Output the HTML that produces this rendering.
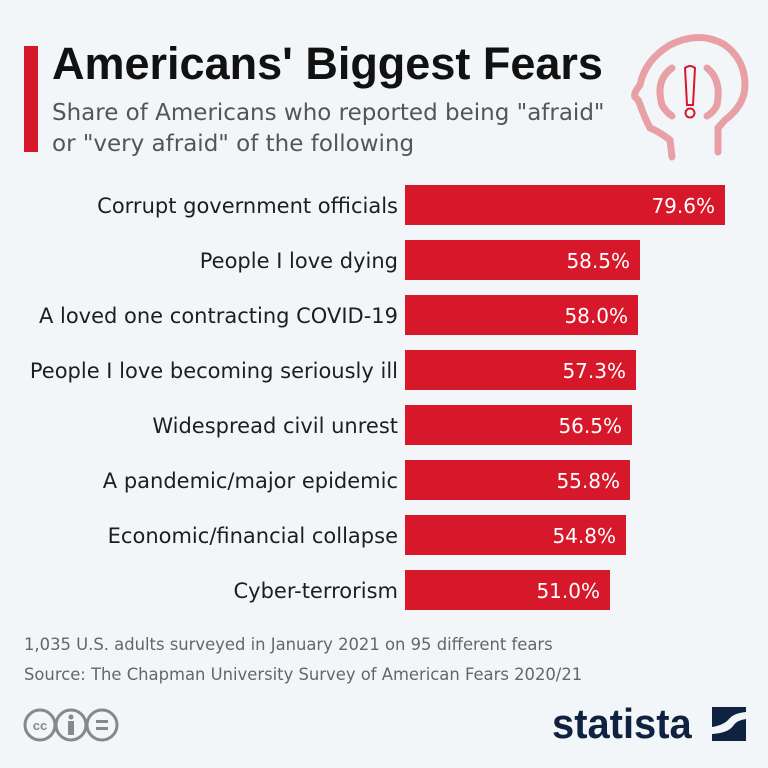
<!DOCTYPE html>
<html><head><meta charset="utf-8"><style>
body{margin:0;width:768px;height:768px;background:#f3f6f9;font-family:"DejaVu Sans",sans-serif;position:relative;overflow:hidden}
.a{position:absolute}
.lbl{position:absolute;right:370px;font-size:21px;color:#1e1e1e;white-space:nowrap;line-height:42px}
.bar{position:absolute;left:405px;height:40px;background:#d7182a;color:#fff;font-size:20px;line-height:42px;text-align:right;box-sizing:border-box;padding-right:10px;white-space:nowrap}
</style></head><body>
<div class="a" style="left:24px;top:46px;width:14px;height:106px;background:#d7182a"></div>
<div class="a" style="left:52px;top:38px;font-family:'Liberation Sans',sans-serif;font-size:45px;font-weight:bold;color:#111">Americans' Biggest Fears</div>
<div class="a" style="left:52px;top:98px;font-size:23px;color:#555;line-height:31px;white-space:nowrap">Share of Americans who reported being "afraid"<br>or "very afraid" of the following</div>
<svg class="a" style="left:625px;top:25px" width="135" height="140" viewBox="625 25 135 140">
<g fill="none" stroke="#e8a0a6" stroke-width="7" stroke-linecap="round">
<path d="M672 157 L670 140 Q660 132 650 128 Q645 118 642 110 Q640 104 638 100 L636 98 Q632 95 640 85 Q645 60 670 45 Q700 30 725 45 Q745 60 745 85 Q745 105 725 120 L718 128 L718 152"/>
<path d="M672 68 Q655 80 662 105 Q666 112 672 116"/>
<path d="M707 68 Q722 80 717 105 Q714 112 707 116"/>
</g>
<path d="M685 68 Q690 64 695 68 L693 105 L687 105 Z" fill="none" stroke="#d7182a" stroke-width="2"/>
<circle cx="690" cy="113" r="4.5" fill="none" stroke="#d7182a" stroke-width="2"/>
</svg>
<div class="lbl" style="top:185px">Corrupt government officials</div>
<div class="bar" style="top:185px;width:320px">79.6%</div>
<div class="lbl" style="top:240px">People I love dying</div>
<div class="bar" style="top:240px;width:235px">58.5%</div>
<div class="lbl" style="top:295px">A loved one contracting COVID-19</div>
<div class="bar" style="top:295px;width:233px">58.0%</div>
<div class="lbl" style="top:350px">People I love becoming seriously ill</div>
<div class="bar" style="top:350px;width:231px">57.3%</div>
<div class="lbl" style="top:405px">Widespread civil unrest</div>
<div class="bar" style="top:405px;width:227px">56.5%</div>
<div class="lbl" style="top:460px">A pandemic/major epidemic</div>
<div class="bar" style="top:460px;width:225px">55.8%</div>
<div class="lbl" style="top:515px">Economic/financial collapse</div>
<div class="bar" style="top:515px;width:221px">54.8%</div>
<div class="lbl" style="top:570px">Cyber-terrorism</div>
<div class="bar" style="top:570px;width:205px">51.0%</div>
<div class="a" style="left:24px;top:630px;font-size:16.4px;color:#666;line-height:30px;white-space:nowrap">1,035 U.S. adults surveyed in January 2021 on 95 different fears<br>Source: The Chapman University Survey of American Fears 2020/21</div>
<svg class="a" style="left:20px;top:705px" width="110" height="40">
<g fill="none" stroke="#888" stroke-width="3"><circle cx="20" cy="20" r="15"/><circle cx="51" cy="20" r="15"/><circle cx="82" cy="20" r="15"/></g>
<text x="20" y="25" font-size="13" font-weight="bold" fill="#888" text-anchor="middle" font-family="Liberation Sans">cc</text>
<circle cx="51" cy="12" r="2.5" fill="#888"/><rect x="48" y="16" width="6" height="14" fill="#888"/>
<rect x="76" y="15" width="12" height="3" fill="#888"/><rect x="76" y="22" width="12" height="3" fill="#888"/>
</svg>
<div class="a" style="left:552px;top:700px;font-family:'Liberation Sans',sans-serif;font-size:42px;font-weight:bold;color:#0f2340;transform:scaleX(0.95);transform-origin:left">statista</div>
<svg class="a" style="left:712px;top:707px" width="34" height="34" viewBox="0 0 34 34">
<rect width="34" height="34" fill="#0f2340"/><path d="M0 20 Q12 18 17 12 Q22 6 34 5 L34 12 Q25 13 21 19 Q16 26 0 27Z" fill="#f3f6f9"/>
</svg>
</body></html>
